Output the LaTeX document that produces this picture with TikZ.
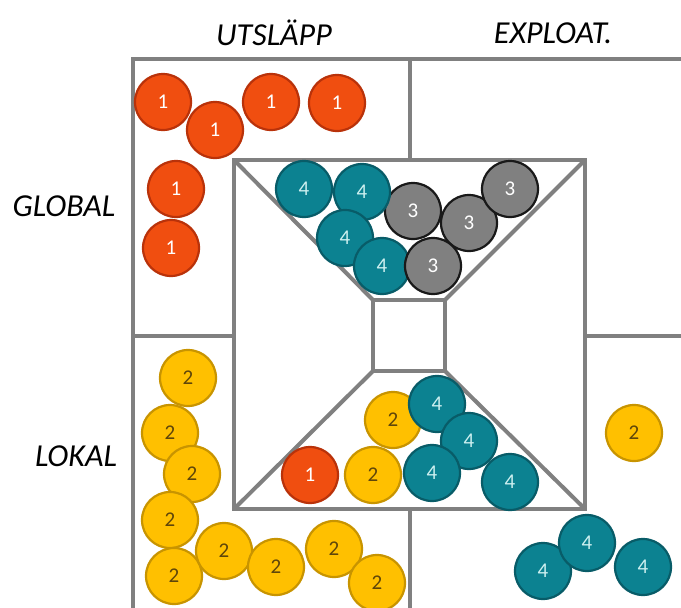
\documentclass[tikz,border=0pt]{standalone}
\usepackage{fontspec}
\setmainfont{Carlito}
\usepackage{xcolor}

\definecolor{frame}{RGB}{128,128,128}
\definecolor{redfill}{RGB}{240,78,16}
\definecolor{redline}{RGB}{185,50,10}
\definecolor{yelfill}{RGB}{255,192,0}
\definecolor{yelline}{RGB}{200,148,0}
\definecolor{yeltext}{RGB}{95,70,10}
\definecolor{tealfill}{RGB}{12,130,145}
\definecolor{tealline}{RGB}{8,92,104}
\definecolor{tealtext}{RGB}{205,240,240}
\definecolor{greyfill}{RGB}{128,128,128}
\definecolor{greyline}{RGB}{25,25,25}

\tikzset{
  ball/.style={circle, minimum size=56pt, inner sep=0pt, line width=2.2pt,
    font=\fontsize{21}{21}\selectfont},
  ballone/.style={ball, fill=redfill, draw=redline, text=white},
  balltwo/.style={ball, fill=yelfill, draw=yelline, text=yeltext},
  ballthree/.style={ball, fill=greyfill, draw=greyline, text=white},
  ballfour/.style={ball, fill=tealfill, draw=tealline, text=tealtext},
  wall/.style={frame, line width=4pt},
  head/.style={font=\fontsize{32}{32}\selectfont\itshape}
}

\begin{document}
\begin{tikzpicture}[x=1pt,y=-1pt]
\useasboundingbox (0,0) rectangle (681,608);

% outer frame
\draw[wall] (133,608)--(133,59)--(681,59);
\draw[wall] (410,59)--(410,160);
\draw[wall] (410,509)--(410,608);
\draw[wall] (133,336)--(234,336);
\draw[wall] (585,336)--(681,336);

% the funnel: big square, small square and the four diagonals
\coordinate (bigNW) at (234,160);
\coordinate (bigNE) at (585,160);
\coordinate (bigSE) at (585,509);
\coordinate (bigSW) at (234,509);
\coordinate (smNW) at (373,300);
\coordinate (smNE) at (445,300);
\coordinate (smSE) at (445,371);
\coordinate (smSW) at (373,371);
\draw[wall, line join=miter] (bigNW) rectangle (bigSE);
\draw[wall] (smNW) rectangle (smSE);
\draw[wall] (bigNW)--(smNW);
\draw[wall] (bigNE)--(smNE);
\draw[wall] (bigSE)--(smSE);
\draw[wall] (bigSW)--(smSW);

% headings
\node[head] (utslapp) at (274,33) {UTSLÄPP};
\node[head] (exploat) at (553,33) {EXPLOAT.};
\node[head] (global) at (64,206) {GLOBAL};
\node[head] (lokal) at (76,456) {LOKAL};

% 1: global, emissions
\node[ballone] (r1) at (163,102) {1};
\node[ballone] (r2) at (215,130) {1};
\node[ballone] (r3) at (271,102) {1};
\node[ballone] (r4) at (337,103) {1};
\node[ballone] (r5) at (176,189) {1};
\node[ballone] (r6) at (171,248) {1};

% 2: local, emissions
\node[balltwo] (y1) at (188,378) {2};
\node[balltwo] (y2) at (170,433) {2};
\node[balltwo] (y3) at (192,474) {2};
\node[balltwo] (y4) at (170,520) {2};
\node[balltwo] (y5) at (174,576) {2};
\node[balltwo] (y6) at (224,551) {2};
\node[balltwo] (y7) at (276,567) {2};
\node[balltwo] (y8) at (334,549) {2};
\node[balltwo] (y9) at (377,583) {2};
\node[balltwo] (y10) at (634,433) {2};

% top of the funnel
\node[ballthree] (g1) at (413,211) {3};
\node[ballthree] (g2) at (469,223) {3};
\node[ballthree] (g3) at (510,189) {3};
\node[ballfour] (t1) at (304,189) {4};
\node[ballfour] (t2) at (362,192) {4};
\node[ballfour] (t3) at (345,238) {4};
\node[ballfour] (t4) at (382,266) {4};
\node[ballthree] (g4) at (433,266) {3};

% bottom of the funnel
\node[ballone] (r7) at (310,475) {1};
\node[balltwo] (y11) at (393,420) {2};
\node[balltwo] (y12) at (373,475) {2};
\node[ballfour] (t5) at (437,404) {4};
\node[ballfour] (t6) at (469,441) {4};
\node[ballfour] (t7) at (432,473) {4};
\node[ballfour] (t8) at (510,482) {4};

% 4: local, exploitation
\node[ballfour] (t9) at (543,571) {4};
\node[ballfour] (t10) at (587,543) {4};
\node[ballfour] (t11) at (643,567) {4};

\end{tikzpicture}
\end{document}
